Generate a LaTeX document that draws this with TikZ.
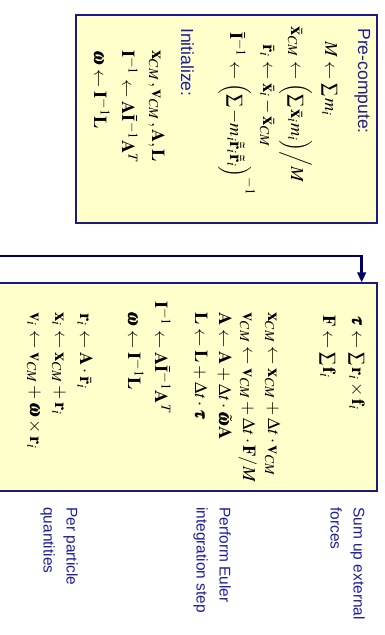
\documentclass[tikz,border=0pt]{standalone}
\usepackage{mathptmx}
\usepackage{bm}
\usepackage[no-math]{fontspec}
\newfontfamily\labelfont{Liberation Sans}
\usetikzlibrary{arrows.meta}
\definecolor{panelfill}{HTML}{FFFFCC}
\definecolor{panelrule}{HTML}{1A1A80}
\definecolor{noteblue}{HTML}{1C1CA0}
\definecolor{loopnavy}{HTML}{000066}

\begin{document}
\begin{tikzpicture}[x=0.025cm, y=-0.025cm,
  panel/.style={rectangle, draw=panelrule, fill=panelfill, line width=0.9pt, inner sep=0pt},
  eqn/.style={rotate=-90, anchor=base west, inner sep=0pt, font=\fontsize{13}{15}\selectfont},
  head/.style={rotate=-90, anchor=base west, inner sep=0pt, text=noteblue,
               font=\labelfont\fontsize{12.5}{15}\selectfont},
  note/.style={rotate=-90, anchor=north west, inner sep=0pt, align=left, text=noteblue,
               font=\labelfont\fontsize{11}{16.3}\selectfont},
  loopline/.style={-{Triangle[length=7pt, width=6pt]}, line width=1.8pt, loopnavy}
]
\useasboundingbox (0,0) rectangle (384,635);

% set-up panel
\node[panel, minimum width=7.525cm, minimum height=5.2cm] (setup) at (226.5,119) {};
\node[head] (pre) at (358,28) {Pre-compute:};
\node[eqn] (mass)   at (325,57) {$\llap{$M$}\leftarrow\sum m_i$};
\node[eqn] (com)    at (291,57) {$\llap{$\bar{\mathbf x}_{CM}$}\leftarrow\Bigl(\sum\bar{\mathbf x}_i m_i\Bigr)\Big/M$};
\node[eqn] (relpos) at (263,57) {$\llap{$\bar{\mathbf r}_i$}\leftarrow\bar{\mathbf x}_i-\bar{\mathbf x}_{CM}$};
\node[eqn] (ibody)  at (230,57) {$\llap{$\bar{\mathbf I}^{-1}$}\leftarrow\Bigl(\sum -m_i\tilde{\bar{\mathbf r}}_i\tilde{\bar{\mathbf r}}_i\Bigr)^{-1}$};
\node[head] (init) at (181,28) {Initialize:};
\node[eqn] (state)  at (152,50) {$\mathbf x_{CM}\,,\mathbf v_{CM}\,,\mathbf A,\mathbf L$};
\node[eqn] (iworld) at (122,50) {$\mathbf I^{-1}\leftarrow\mathbf A\bar{\mathbf I}^{-1}\mathbf A^T$};
\node[eqn] (omega)  at (94,50)  {$\bm\omega\leftarrow\mathbf I^{-1}\mathbf L$};

% time step panel
\node[panel, minimum width=9.675cm, minimum height=5.2cm] (step) at (183.5,387) {};
\node[eqn] (torque) at (352,326) {$\llap{$\bm\tau$}\leftarrow\sum\mathbf r_i\times\mathbf f_i$};
\node[eqn] (force)  at (323,326) {$\llap{$\mathbf F$}\leftarrow\sum\mathbf f_i$};
\node[eqn] (xcm)    at (268,312) {$\mathbf x_{CM}\leftarrow\mathbf x_{CM}+\Delta t\cdot\mathbf v_{CM}$};
\node[eqn] (vcm)    at (243,312) {$\mathbf v_{CM}\leftarrow\mathbf v_{CM}+\Delta t\cdot\mathbf F/M$};
\node[eqn] (rot)    at (219,312) {$\mathbf A\leftarrow\mathbf A+\Delta t\cdot\tilde{\bm\omega}\mathbf A$};
\node[eqn] (mom)    at (195,312) {$\mathbf L\leftarrow\mathbf L+\Delta t\cdot\bm\tau$};
\node[eqn] (inew)   at (155,326) {$\llap{$\mathbf I^{-1}$}\leftarrow\mathbf A\bar{\mathbf I}^{-1}\mathbf A^T$};
\node[eqn] (wnew)   at (128,326) {$\llap{$\bm\omega$}\leftarrow\mathbf I^{-1}\mathbf L$};
\node[eqn] (ri)     at (80,326)  {$\llap{$\mathbf r_i$}\leftarrow\mathbf A\cdot\bar{\mathbf r}_i$};
\node[eqn] (xi)     at (55,326)  {$\llap{$\mathbf x_i$}\leftarrow\mathbf x_{CM}+\mathbf r_i$};
\node[eqn] (vi)     at (30,326)  {$\llap{$\mathbf v_i$}\leftarrow\mathbf v_{CM}+\bm\omega\times\mathbf r_i$};

% notes
\node[note] (sumnote)   at (365,507) {Sum up external\\forces};
\node[note] (eulernote) at (231,507) {Perform Euler\\integration step};
\node[note] (partnote)  at (78,507)  {Per particle\\quantities};

% loop back
\coordinate (feed) at (-5,256);
\draw[loopline] (feed) -| ([xshift=-0.4cm]step.north east);
\end{tikzpicture}
\end{document}
